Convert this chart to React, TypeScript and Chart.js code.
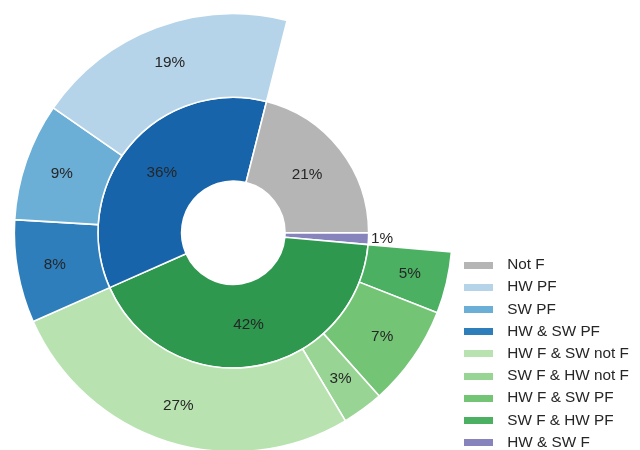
import React, { useEffect, useRef } from 'react';
import { Chart, DoughnutController, ArcElement, Legend } from 'chart.js';

Chart.register(DoughnutController, ArcElement, Legend);

const FONT = "'Liberation Sans', Arial, Helvetica, sans-serif";
const TEXT_COLOR = '#262626';

// Legend categories (in legend order; counterclockwise from 3 o'clock in the outer ring)
const categories = [
  'Not F',
  'HW PF',
  'SW PF',
  'HW & SW PF',
  'HW F & SW not F',
  'SW F & HW not F',
  'HW F & SW PF',
  'SW F & HW PF',
  'HW & SW F',
];
// Outer ring shares (%), counterclockwise from 3 o'clock
const outerShares = [21.05, 19.3, 8.7, 7.6, 26.9, 3.05, 7.45, 4.55, 1.4];
// Whether a slice of the outer ring is drawn (Not F and HW & SW F live only in the inner ring)
const outerVisible = [false, true, true, true, true, true, true, true, false];
const categoryColors = [
  '#b5b5b5', '#b6d4e9', '#6baed6', '#2e7ebc',
  '#b8e3b1', '#98d594', '#74c476', '#4bb062', '#8683bd',
];

// Inner ring groups (%), counterclockwise from 3 o'clock
const innerGroups = ['Not F', 'PF', 'F', 'HW & SW F'];
const innerShares = [21.05, 35.6, 41.95, 1.4];
const innerColors = ['#b5b5b5', '#1764ab', '#2f984f', '#8683bd'];

function rev<T>(a: T[]): T[] {
  return a.slice().reverse();
}

const pctLabels = {
  id: 'pctLabels',
  afterDatasetsDraw(chart: any) {
    const ctx = chart.ctx;
    ctx.save();
    ctx.font = `15.3px ${FONT}`;
    ctx.fillStyle = TEXT_COLOR;
    ctx.textAlign = 'center';
    ctx.textBaseline = 'middle';
    chart.data.datasets.forEach((ds: any, di: number) => {
      const meta = chart.getDatasetMeta(di);
      const total = ds.data.reduce((s: number, v: number) => s + v, 0);
      meta.data.forEach((arc: any, i: number) => {
        if (!ds.showLabel[i]) return;
        const { x, y, startAngle, endAngle, innerRadius, outerRadius } = arc.getProps(
          ['x', 'y', 'startAngle', 'endAngle', 'innerRadius', 'outerRadius'],
          true
        );
        const pct = (ds.data[i] / total) * 100;
        const mid = (startAngle + endAngle) / 2;
        const r = pct < 2 ? outerRadius * 1.1 : innerRadius + (outerRadius - innerRadius) * ds.labelFrac;
        ctx.fillText(`${Math.round(pct)}%`, x + r * Math.cos(mid), y + r * Math.sin(mid));
      });
    });
    ctx.restore();
  },
};

function makeSwatch(color: string): HTMLCanvasElement {
  const c = document.createElement('canvas');
  c.width = 29;
  c.height = 7;
  const g = c.getContext('2d')!;
  g.fillStyle = color;
  g.fillRect(0, 0, 29, 7);
  return c;
}

export default function App() {
  const ref = useRef<HTMLCanvasElement>(null);

  useEffect(() => {
    const swatches = categoryColors.map(makeSwatch);
    const chart = new Chart(ref.current!, {
      type: 'doughnut',
      data: {
        labels: rev(categories),
        datasets: [
          {
            label: 'outer',
            data: rev(outerShares),
            backgroundColor: rev(outerVisible.map((v, i) => (v ? categoryColors[i] : 'rgba(0,0,0,0)'))),
            borderColor: '#ffffff',
            borderWidth: rev(outerVisible.map((v) => (v ? 1.6 : 0))),
            showLabel: rev(outerVisible),
            labelFrac: 0.55,
          } as any,
          {
            label: 'inner',
            data: rev(innerShares),
            backgroundColor: rev(innerColors),
            borderColor: '#ffffff',
            borderWidth: 1.6,
            showLabel: rev(innerGroups.map(() => true)),
            labelFrac: 0.5,
          } as any,
        ],
      },
      options: {
        responsive: false,
        animation: false,
        events: [],
        devicePixelRatio: 1,
        rotation: 90,
        radius: 219,
        cutout: '23.6%',
        layout: {
          padding: { left: 16.15, right: 1.15, top: 15.4, bottom: -7.15 },
        },
        plugins: {
          tooltip: { enabled: false },
          legend: {
            display: true,
            position: 'right',
            align: 'end',
            onClick: () => {},
            labels: {
              usePointStyle: true,
              pointStyleWidth: 42.3,
              padding: 6.9,
              color: TEXT_COLOR,
              font: { family: FONT, size: 15.3 },
              generateLabels: () =>
                categories.map((name, i) => ({
                  text: name,
                  fillStyle: categoryColors[i],
                  strokeStyle: 'rgba(0,0,0,0)',
                  lineWidth: 0,
                  pointStyle: swatches[i],
                  hidden: false,
                  index: i,
                  fontColor: TEXT_COLOR,
                })),
            },
          },
        },
      } as any,
      plugins: [pctLabels],
    });
    return () => chart.destroy();
  }, []);

  return (
    <div style={{ position: 'absolute', left: 0, top: 0, width: 640, height: 450, background: '#ffffff' }}>
      <canvas ref={ref} width={640} height={450} style={{ display: 'block', width: 640, height: 450 }} />
    </div>
  );
}
